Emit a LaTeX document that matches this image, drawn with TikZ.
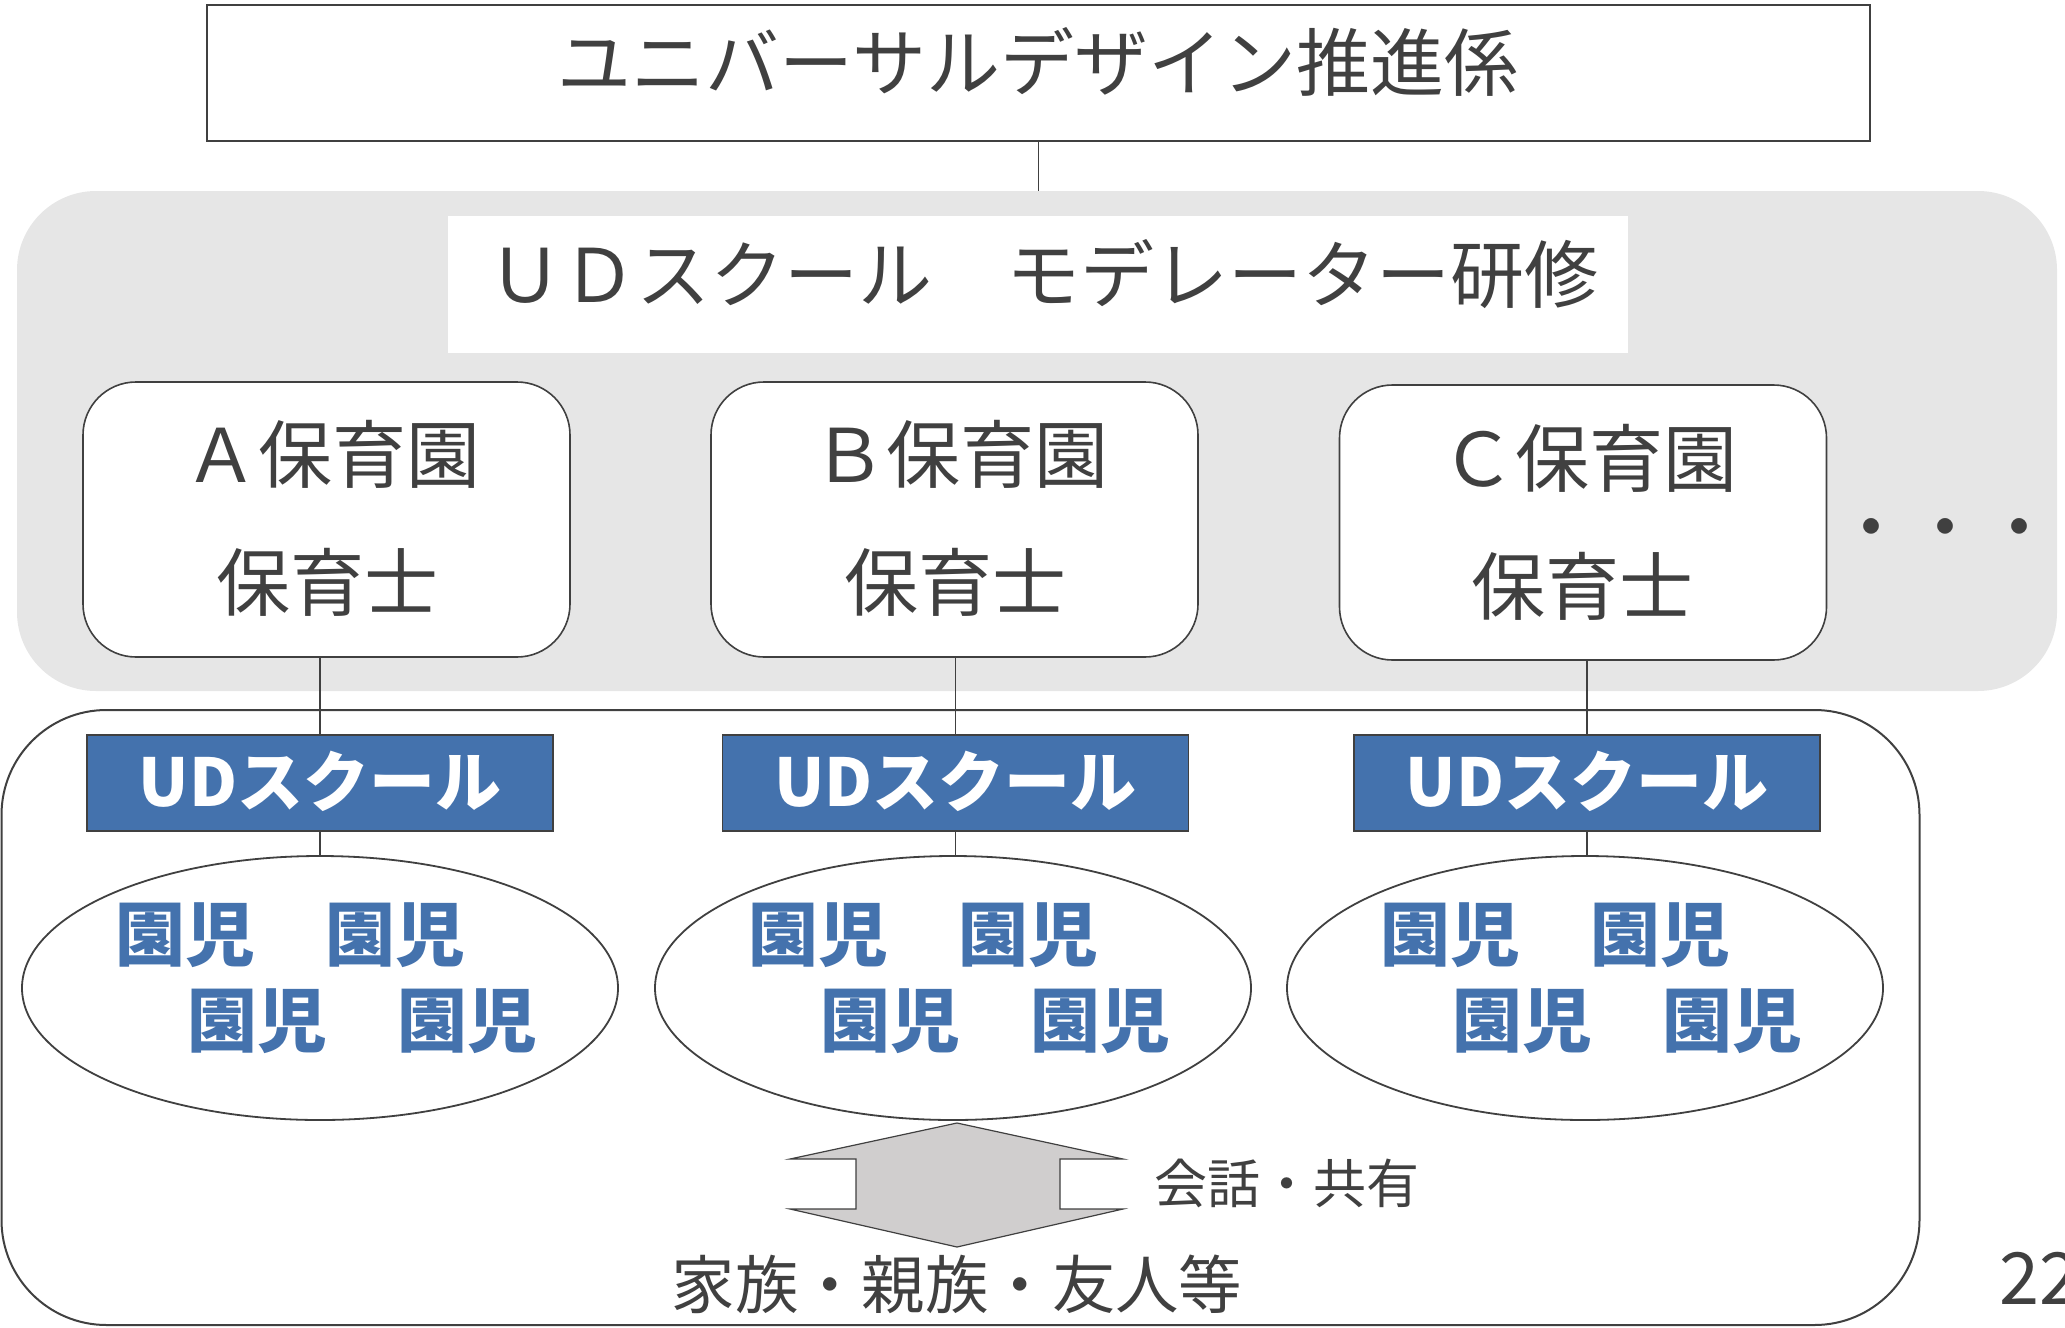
\documentclass[tikz,border=0pt]{standalone}
\usepackage{fontspec}
\newfontfamily\jp{Noto Sans CJK JP}
\usetikzlibrary{shapes.geometric}
\definecolor{dk}{RGB}{64,64,64}
\definecolor{regbg}{RGB}{230,230,230}
\definecolor{udblue}{RGB}{68,114,173}
\definecolor{arrowfill}{RGB}{208,206,206}
\begin{document}
\begin{tikzpicture}[x=0.5pt,y=-0.5pt,
  conn/.style={draw=dk, line width=0.75pt},
  txt/.style={inner sep=0pt, text=dk, font=\jp\fontsize{37}{44}\selectfont},
  kidtxt/.style={inner sep=0pt, text=udblue, font=\jp\bfseries\fontsize{35}{40}\selectfont},
  enbox/.style={draw=dk, line width=0.8pt, fill=white, rounded corners=26.5pt,
    minimum width=243.5pt, minimum height=137.5pt, inner sep=0pt},
  udbox/.style={draw=dk, line width=0.6pt, fill=udblue, minimum width=233pt,
    minimum height=48pt, inner sep=0pt, text=white,
    font=\jp\bfseries\fontsize{33}{38}\selectfont},
  kidell/.style={ellipse, draw=dk, line width=0.9pt, fill=white,
    minimum width=298pt, minimum height=132pt, inner sep=0pt}
]
\useasboundingbox (0,0) rectangle (2065,1327);

% top box
\node[draw=dk, line width=1pt, minimum width=831.5pt, minimum height=68pt, inner sep=0pt]
  (top) at (1038.5,73) {};
\node[txt] (toptxt) at (1038,62) {ユニバーサルデザイン推進係};

% gray region
\node[fill=regbg, rounded corners=39.5pt, minimum width=1020pt, minimum height=250pt, inner sep=0pt]
  (region) at (1037,441) {};
\draw[conn] (top.south) -- (top.south |- region.north);

% moderator box
\node[fill=white, minimum width=590pt, minimum height=68.5pt, inner sep=0pt]
  (mod) at (1038,284.5) {};
\node[txt] (modtxt) at (1043,274) {ＵＤスクール　モデレーター研修};

% nursery boxes
\node[enbox] (boxA) at (326.5,519.5) {};
\node[enbox] (boxB) at (954.5,519.5) {};
\node[enbox] (boxC) at (1583,522.5) {};
\node[txt] (nA) at (332,454) {Ａ保育園};
\node[txt] (tA) at (327,582) {保育士};
\node[txt] (nB) at (960,454) {Ｂ保育園};
\node[txt] (tB) at (955,582) {保育士};
\node[txt] (nC) at (1589,458) {Ｃ保育園};
\node[txt] (tC) at (1582,586) {保育士};
\node[txt] (dots) at (1945,537) {・・・};

% outer bottom frame
\node[draw=dk, line width=1pt, rounded corners=52.5pt, minimum width=959pt,
  minimum height=307.5pt, inner sep=0pt] (outer) at (960.5,1017.5) {};

% UD school boxes
\node[udbox] (udA) at (320,783) {\raisebox{4pt}{UDスクール}};
\node[udbox] (udB) at (955.5,783) {\raisebox{4pt}{UDスクール}};
\node[udbox] (udC) at (1587,783) {\raisebox{4pt}{UDスクール}};

% ellipses
\node[kidell] (ellA) at (320,988) {};
\node[kidell] (ellB) at (953,988) {};
\node[kidell] (ellC) at (1585,988) {};

% connectors
\draw[conn] (udA.north) -- (udA.north |- boxA.south);
\draw[conn] (udB.north) -- (udB.north |- boxB.south);
\draw[conn] (udC.north) -- (udC.north |- boxC.south);
\draw[conn] (udA.south) -- (udA.south |- ellA.north);
\draw[conn] (udB.south) -- (udB.south |- ellB.north);
\draw[conn] (udC.south) -- (udC.south |- ellC.north);

% kids text
\foreach \cx/\nm in {320/A,953/B,1585/C}{
  \node[kidtxt] (kid1\nm) at (\cx-30,935) {園児　園児};
  \node[kidtxt] (kid2\nm) at (\cx+42,1021) {園児　園児};
}

% double arrow
\draw[draw=dk, line width=0.6pt, fill=arrowfill]
  (957,1123) -- (1123,1159) -- (1060,1159) -- (1060,1209) -- (1123,1209)
  -- (957,1247) -- (790,1209) -- (856,1209) -- (856,1159) -- (790,1159) -- cycle;

\node[inner sep=0pt, text=dk, font=\jp\fontsize{26.5}{30}\selectfont] (talk) at (1287,1183) {会話・共有};
\node[inner sep=0pt, text=dk, font=\jp\fontsize{31.7}{36}\selectfont] (family) at (957,1284) {家族・親族・友人等};

% page number (cut off at the right edge, as in the reference)
\node[inner sep=0pt, text=dk, font=\jp\fontsize{36}{40}\selectfont, anchor=west] (pg) at (1999,1278) {22};
\end{tikzpicture}
\end{document}
